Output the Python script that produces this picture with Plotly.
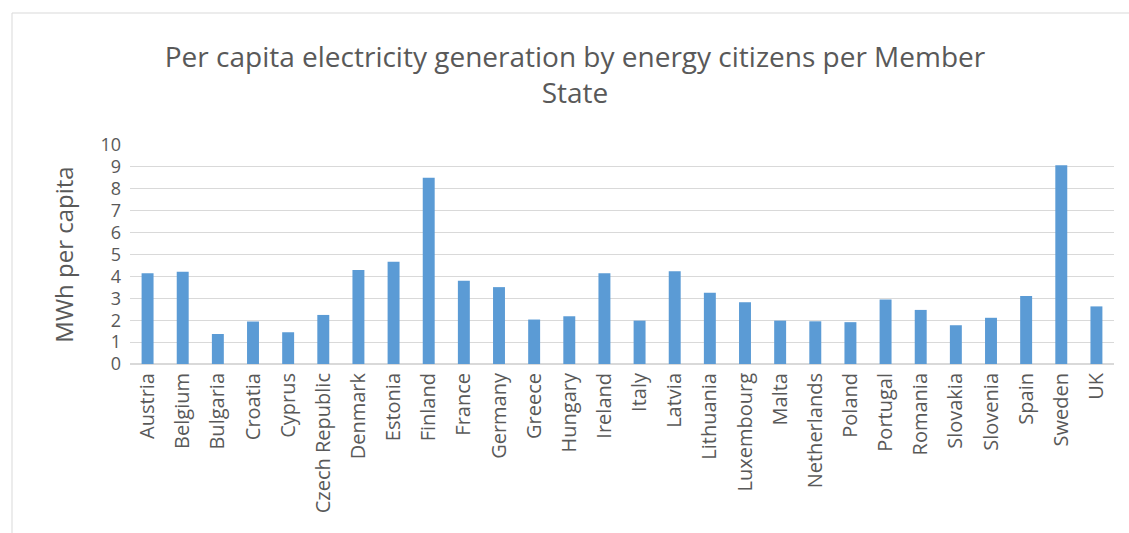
import plotly.graph_objects as go

countries = ["Austria", "Belgium", "Bulgaria", "Croatia", "Cyprus", "Czech Republic",
             "Denmark", "Estonia", "Finland", "France", "Germany", "Greece", "Hungary",
             "Ireland", "Italy", "Latvia", "Lithuania", "Luxembourg", "Malta",
             "Netherlands", "Poland", "Portugal", "Romania", "Slovakia", "Slovenia",
             "Spain", "Sweden", "UK"]
values = [4.14, 4.21, 1.37, 1.94, 1.45, 2.24, 4.29, 4.67, 8.50, 3.80, 3.51, 2.03,
          2.18, 4.14, 1.98, 4.23, 3.25, 2.82, 1.98, 1.95, 1.91, 2.95, 2.47, 1.77,
          2.11, 3.11, 9.08, 2.63]
y_ticks = list(range(0, 11))

font_family = "Open Sans, Lato, sans-serif"
text_color = "#595959"

L, R, T, B = 130, 15, 145, 169
W, H = 1129, 533
pw = W - L - R
ph = H - T - B

fig = go.Figure(go.Bar(x=countries, y=values, marker=dict(color="#5B9BD5",
                 line=dict(width=0))))

border_x = (12 - L) / pw
border_y = (H - B - 13) / ph

fig.update_layout(
    width=W, height=H,
    margin=dict(l=L, r=R, t=T, b=B),
    paper_bgcolor="white", plot_bgcolor="white",
    bargap=0.66,
    showlegend=False,
    title=dict(text="Per capita electricity generation by energy citizens per Member<br>State",
               x=(575 - L) / pw, xanchor="center", xref="paper", y=1 - 67 / H, yanchor="middle",
               font=dict(family=font_family, size=28, color=text_color)),
    font=dict(family=font_family, color=text_color),
    xaxis=dict(tickangle=-90, tickfont=dict(size=20, color=text_color),
               showgrid=False, showline=True, linecolor="#d9d9d9", ticks="",
               range=[-0.5, len(countries) - 0.5]),
    yaxis=dict(range=[0, 10], tickvals=y_ticks, tickfont=dict(size=18, color=text_color),
               showgrid=True, gridcolor="#d9d9d9", gridwidth=1, ticklabelstandoff=8,
               zeroline=True, zerolinecolor="#d9d9d9", ticks="", showline=False,
               title=dict(text="MWh per capita", font=dict(size=24, color=text_color),
                          standoff=20)),
    shapes=[
        dict(type="line", xref="paper", yref="paper", x0=border_x, x1=border_x,
             y0=border_y, y1=-2, line=dict(color="#d9d9d9", width=1), layer="below"),
        dict(type="line", xref="paper", yref="paper", x0=border_x, x1=1.5,
             y0=border_y, y1=border_y, line=dict(color="#d9d9d9", width=1), layer="below"),
    ],
)

fig.write_html("out.html")
